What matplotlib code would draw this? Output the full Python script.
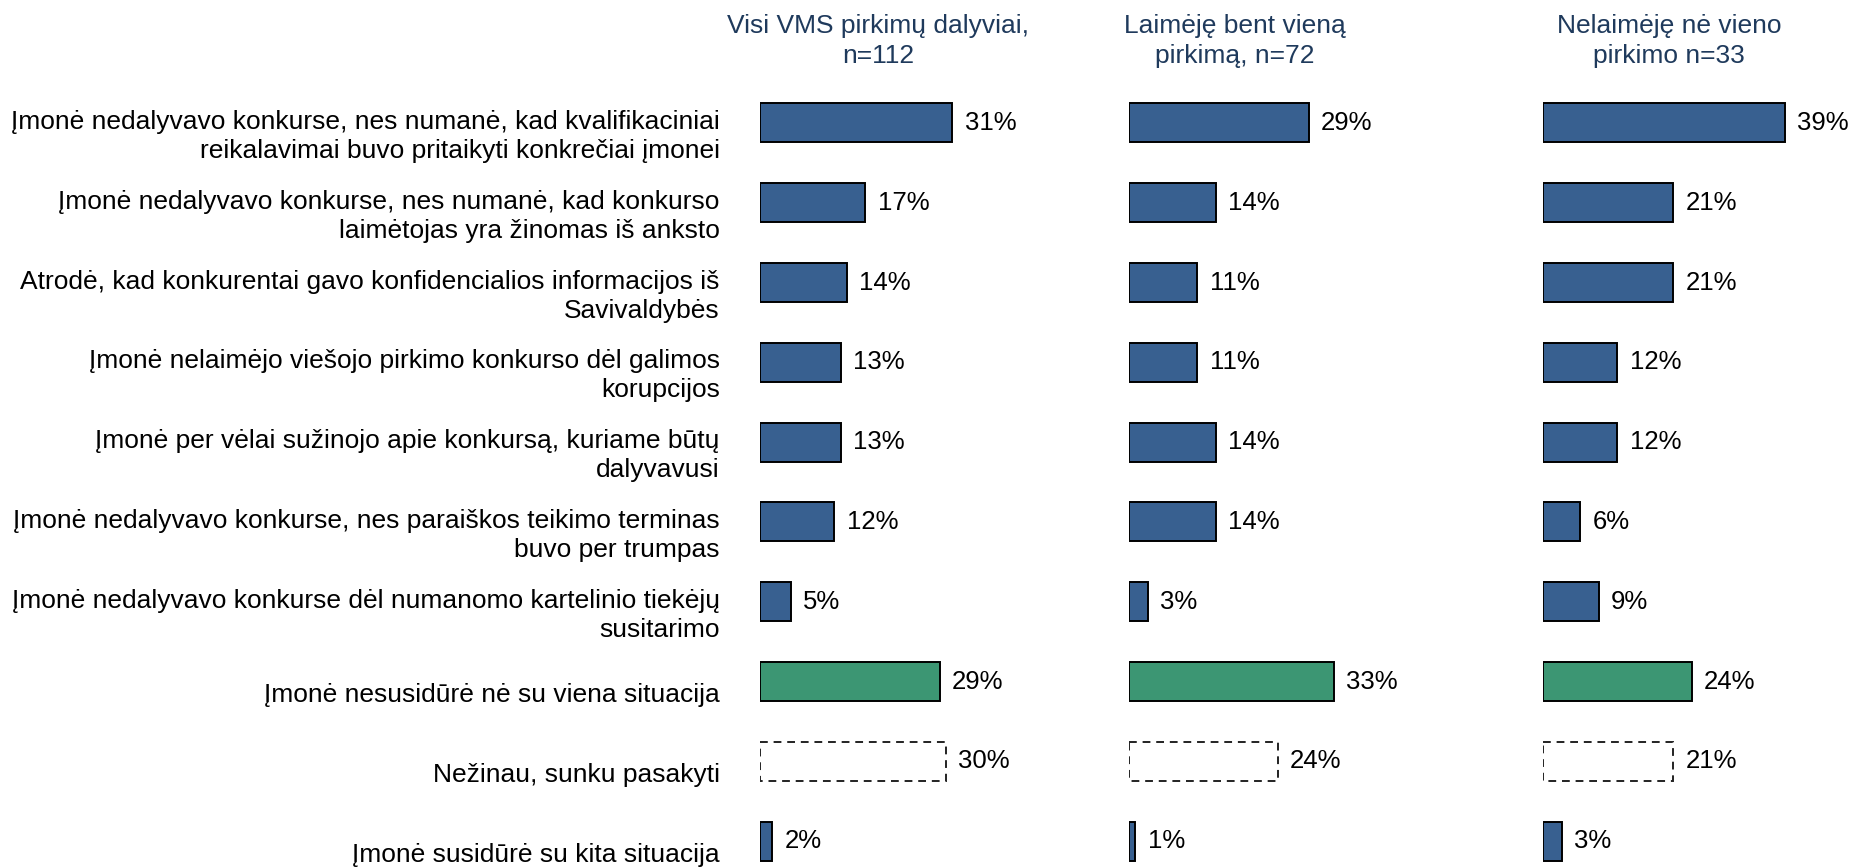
import numpy as np
from matplotlib import pyplot as plt

plt.rcParams['font.family'] = ['Liberation Sans', 'DejaVu Sans']

labels = [
    "Įmonė nedalyvavo konkurse, nes numanė, kad kvalifikaciniai\nreikalavimai buvo pritaikyti konkrečiai įmonei",
    "Įmonė nedalyvavo konkurse, nes numanė, kad konkurso\nlaimėtojas yra žinomas iš anksto",
    "Atrodė, kad konkurentai gavo konfidencialios informacijos iš\nSavivaldybės",
    "Įmonė nelaimėjo viešojo pirkimo konkurso dėl galimos\nkorupcijos",
    "Įmonė per vėlai sužinojo apie konkursą, kuriame būtų\ndalyvavusi",
    "Įmonė nedalyvavo konkurse, nes paraiškos teikimo terminas\nbuvo per trumpas",
    "Įmonė nedalyvavo konkurse dėl numanomo kartelinio tiekėjų\nsusitarimo",
    "Įmonė nesusidūrė nė su viena situacija",
    "Nežinau, sunku pasakyti",
    "Įmonė susidūrė su kita situacija",
]
headers = ["Visi VMS pirkimų dalyviai,\nn=112",
           "Laimėję bent vieną\npirkimą, n=72",
           "Nelaimėję nė vieno\npirkimo n=33"]
all_part = [31, 17, 14, 13, 13, 12, 5, 29, 30, 2]
won = [29, 14, 11, 11, 14, 14, 3, 33, 24, 1]
not_won = [39, 21, 21, 12, 12, 6, 9, 24, 21, 3]
series = [all_part, won, not_won]

W, H = 1853, 867
BLUE = '#386090'
GREEN = '#3c9673'
HEAD = '#1f3a5c'

fig = plt.figure(figsize=(W / 100, H / 100), dpi=100)

lefts = [760, 1129, 1543]
head_x = [878, 1235, 1669]
px_per_pct = 6.2
top, row_h = 83, 79.8
axes = []
for i, vals in enumerate(series):
    ax_w = 40 * px_per_pct
    ax = fig.add_axes([lefts[i] / W, (H - top - 10 * row_h) / H, ax_w / W, 10 * row_h / H])
    ax.set_xlim(0, 40)
    ax.set_ylim(9.5, -0.5)
    ax.axis('off')
    for j, v in enumerate(vals):
        if j == 8:
            ax.barh(j, v, height=0.49, color='white', edgecolor='#222222',
                    linestyle=(0, (4, 3)), linewidth=1.4)
        else:
            ax.barh(j, v, height=0.49, color=GREEN if j == 7 else BLUE,
                    edgecolor='black', linewidth=1.4)
        ax.text(v + 2.0, j, f"{v}%", ha='left', va='center', fontsize=18.5, color='black')
    fig.text(head_x[i] / W, 1 - 41 / H, headers[i], ha='center', va='center',
             fontsize=19, color=HEAD, linespacing=1.32)
    axes.append(ax)

for j, lab in enumerate(labels):
    axes[0].text(-6.5, j + 0.17, lab, ha='right', va='center', fontsize=19,
                 color='black', linespacing=1.26, multialignment='right')

fig.savefig('out.png', dpi=100)
